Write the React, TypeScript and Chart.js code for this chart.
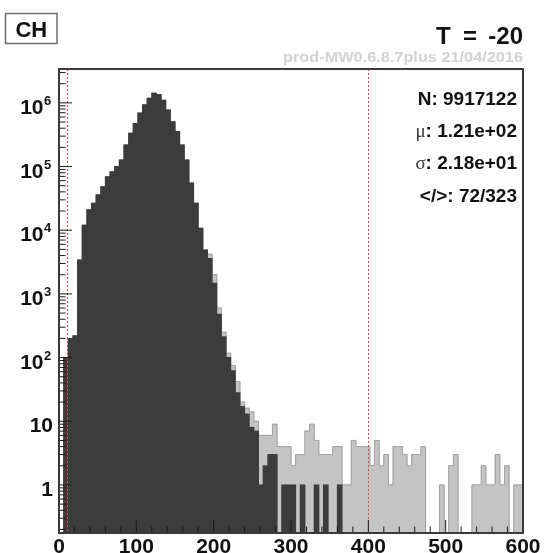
import React, { useEffect, useRef } from 'react';
import { Chart, registerables } from 'chart.js';

Chart.register(...registerables);

// ---- data ----
const BIN_WIDTH = 6;
const X_MIN = 0;
const X_MAX = 600;
const Y_MIN = 0.176;
const Y_MAX = 3.4e6;

const xTickValues = [0, 100, 200, 300, 400, 500, 600];
const xTickLabels = ['0', '100', '200', '300', '400', '500', '600'];
const yTickValues = [1, 10, 100, 1e3, 1e4, 1e5, 1e6];
const yTickBase = ['1', '10', '10', '10', '10', '10', '10'];
const yTickExp = ['', '', '2', '3', '4', '5', '6'];
const cutLines = [10, 400];

// counts per 6-unit bin, 0..600 (100 bins)
const darkCounts = [
  0, 100, 200, 220, 3400, 12000, 21000, 26500, 36000, 48000,
  69000, 83000, 100000, 127000, 218000, 332000, 475000, 690000, 930000, 1180000,
  1420000, 1350000, 1100000, 770000, 505000, 354000, 218000, 127000, 55000, 26500,
  10700, 4900, 3600, 1470, 480, 213, 100, 62, 28, 17,
  13, 8, 7, 1, 2, 3, 3, 0, 1, 1,
  1, 0, 1, 0, 0, 1, 0, 1, 0, 0,
  1, 0, 0, 0, 0, 0, 0, 0, 0, 0,
  0, 0, 0, 0, 0, 0, 0, 0, 0, 0,
  0, 0, 0, 0, 0, 0, 0, 0, 0, 0,
  0, 0, 0, 0, 0, 0, 0, 0, 0, 0,
];
const lightCounts = [
  0, 100, 200, 220, 3400, 12000, 21000, 26500, 36000, 48000,
  69000, 83000, 100000, 127000, 218000, 332000, 475000, 690000, 930000, 1180000,
  1420000, 1350000, 1100000, 770000, 505000, 354000, 218000, 127000, 55000, 26500,
  10700, 4900, 4200, 2000, 600, 250, 117, 75, 42, 20,
  16, 14, 10, 6, 6, 6, 9, 4, 4, 4,
  2, 3, 3, 7, 9, 5, 3, 3, 3, 4,
  4, 1, 1, 5, 4, 4, 4, 2, 5, 2,
  3, 1, 4, 4, 3, 2, 3, 3, 4, 0,
  0, 0, 1, 0, 2, 3, 0, 0, 0, 1,
  1, 2, 1, 1, 3, 1, 2, 0, 1, 1,
];

const titleText = 'CH';
const tempParts = ['T', '=', '-20'];
const versionText = 'prod-MW0.6.8.7plus 21/04/2016';
const statsSymbols = ['N', 'μ', 'σ', '</>'];
const statsValues = ['9917122', '1.21e+02', '2.18e+01', '72/323'];

const SANS = '"Liberation Sans", Arial, Helvetica, sans-serif';
const SERIF = '"Liberation Serif", "Times New Roman", serif';

const rootStyle = {
  id: 'rootStyle',
  afterDraw(chart: any) {
    const ctx: CanvasRenderingContext2D = chart.ctx;
    const { left, right, top, bottom } = chart.chartArea;
    const xs = chart.scales.x;
    const ys = chart.scales.y;
    const line = (x1: number, y1: number, x2: number, y2: number) => {
      ctx.beginPath();
      ctx.moveTo(x1, y1);
      ctx.lineTo(x2, y2);
      ctx.stroke();
    };
    ctx.save();

    // red cut lines
    ctx.strokeStyle = '#e5463f';
    ctx.lineWidth = 1;
    ctx.setLineDash([2, 2]);
    for (const c of cutLines) {
      const px = Math.round(xs.getPixelForValue(c)) + 0.5;
      line(px, top, px, bottom);
    }
    ctx.setLineDash([]);

    // tick marks (inside frame)
    ctx.strokeStyle = '#1a1a1a';
    ctx.lineWidth = 1;
    for (let v = X_MIN; v <= X_MAX; v += 20) {
      const px = xs.getPixelForValue(v);
      const len = v % 100 === 0 ? 13 : 6.5;
      line(px, bottom, px, bottom - len);
    }
    for (let d = -1; d <= 6; d++) {
      for (let m = 1; m <= 9; m++) {
        const v = m * Math.pow(10, d);
        if (v <= Y_MIN || v >= Y_MAX) continue;
        const py = ys.getPixelForValue(v);
        const len = m === 1 ? 13 : 6.5;
        line(left, py, left + len, py);
      }
    }

    // frame
    ctx.strokeStyle = '#3a3a3a';
    ctx.lineWidth = 2;
    ctx.strokeRect(left, top, right - left, bottom - top);

    // x tick labels
    ctx.fillStyle = '#111';
    ctx.font = `bold 21px ${SANS}`;
    ctx.textAlign = 'center';
    ctx.textBaseline = 'alphabetic';
    xTickValues.forEach((v, i) => {
      ctx.fillText(xTickLabels[i], xs.getPixelForValue(v), 553);
    });

    // y tick labels
    yTickValues.forEach((v, i) => {
      const py = ys.getPixelForValue(v);
      if (yTickExp[i] === '') {
        ctx.font = `bold 21px ${SANS}`;
        ctx.textAlign = 'right';
        ctx.fillText(yTickBase[i], 53, py + 11);
      } else {
        ctx.font = `bold 21px ${SANS}`;
        ctx.textAlign = 'right';
        ctx.fillText(yTickBase[i], 43.5, py + 11);
        ctx.font = `bold 13px ${SANS}`;
        ctx.textAlign = 'left';
        ctx.fillText(yTickExp[i], 44, py + 2);
      }
    });

    // title box
    ctx.fillStyle = '#fff';
    ctx.fillRect(5.5, 13.5, 51.5, 30);
    ctx.strokeStyle = '#6e6e6e';
    ctx.lineWidth = 1.5;
    ctx.strokeRect(5.5, 13.5, 51.5, 30);
    ctx.fillStyle = '#111';
    ctx.font = `bold 22px ${SANS}`;
    ctx.textAlign = 'center';
    ctx.fillText(titleText, 31.3, 36.5);

    // T = -20
    ctx.font = `bold 24px ${SANS}`;
    ctx.textAlign = 'left';
    ctx.fillText(tempParts[0], 436, 43.5);
    ctx.fillText(tempParts[1], 463, 43.5);
    ctx.textAlign = 'right';
    ctx.fillText(tempParts[2], 523, 43.5);

    // version line (fit to width)
    ctx.font = `bold 14px ${SANS}`;
    ctx.fillStyle = '#d2d2d2';
    const vw = ctx.measureText(versionText).width;
    const target = 240;
    ctx.save();
    ctx.translate(523, 61.5);
    ctx.scale(target / vw, 1);
    ctx.textAlign = 'right';
    ctx.fillText(versionText, 0, 0);
    ctx.restore();

    // stats
    const baselines = [105, 136.5, 168.5, 202];
    const xr = 517;
    statsSymbols.forEach((sym, i) => {
      const val = ': ' + statsValues[i];
      ctx.fillStyle = '#111';
      ctx.font = `bold 19px ${SANS}`;
      const wv = ctx.measureText(val).width;
      ctx.textAlign = 'left';
      ctx.fillText(val, xr - wv, baselines[i]);
      const isGreek = sym === 'μ' || sym === 'σ';
      ctx.font = isGreek ? `19px ${SERIF}` : `bold 19px ${SANS}`;
      ctx.fillStyle = isGreek ? '#333' : '#111';
      const ws = ctx.measureText(sym).width;
      ctx.fillText(sym, xr - wv - ws, baselines[i]);
    });

    ctx.restore();
  },
};

export default function App() {
  const ref = useRef<HTMLCanvasElement | null>(null);
  useEffect(() => {
    if (!ref.current) return;
    const centers = darkCounts.map((_, k) => X_MIN + k * BIN_WIDTH + BIN_WIDTH / 2);
    const darkData = darkCounts.map((v, k) => ({ x: centers[k], y: v > 0 ? v : null }));
    const lightData = lightCounts.map((v, k) => ({ x: centers[k], y: v > 0 ? v : null }));
    const outline = lightCounts.map((v, k) => ({ x: X_MIN + k * BIN_WIDTH, y: v > 0 ? v : Y_MIN * 0.5 }));
    outline.push({ x: X_MAX, y: Y_MIN * 0.5 });

    const chart = new Chart(ref.current, {
      type: 'bar',
      data: {
        datasets: [
          {
            type: 'bar',
            data: darkData as any,
            backgroundColor: '#3c3c3c',
            borderWidth: 0,
            barPercentage: 1,
            categoryPercentage: 1,
            grouped: false,
            inflateAmount: 0.5,
            order: 0,
          } as any,
          {
            type: 'line',
            data: outline as any,
            borderColor: '#a2a2a2',
            borderWidth: 1,
            pointRadius: 0,
            fill: false,
            stepped: 'before',
            order: 1,
          } as any,
          {
            type: 'bar',
            data: lightData as any,
            backgroundColor: '#c4c4c4',
            borderWidth: 0,
            barPercentage: 1,
            categoryPercentage: 1,
            grouped: false,
            inflateAmount: 0.5,
            order: 2,
          } as any,
        ],
      },
      options: {
        responsive: false,
        animation: false,
        devicePixelRatio: 1,
        layout: { padding: { left: 59, top: 69, right: 21, bottom: 20 } },
        plugins: {
          legend: { display: false },
          tooltip: { enabled: false },
          title: { display: false },
        },
        scales: {
          x: { type: 'linear', min: X_MIN, max: X_MAX, offset: false, display: false },
          y: { type: 'logarithmic', min: Y_MIN, max: Y_MAX, display: false },
        },
      } as any,
      plugins: [rootStyle],
    });
    return () => chart.destroy();
  }, []);

  return (
    <div style={{ position: 'fixed', left: 0, top: 0, width: 544, height: 553, background: '#fff' }}>
      <canvas ref={ref} width={544} height={553} style={{ display: 'block' }} />
    </div>
  );
}
